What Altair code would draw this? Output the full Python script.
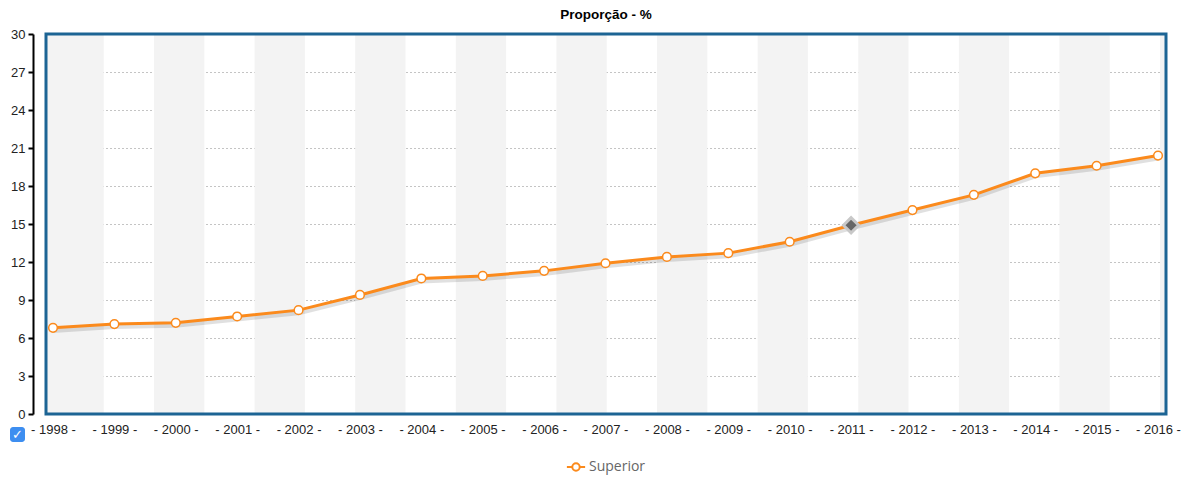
import altair as alt
import pandas as pd

# ---- data ----
years = list(range(1998, 2017))
values = [6.8, 7.1, 7.2, 7.7, 8.2, 9.4, 10.7, 10.9, 11.3, 11.9, 12.4, 12.7,
          13.6, 14.9, 16.1, 17.3, 19.0, 19.6, 20.4]
series_name = "Superior"
highlight_year = 2011
y_ticks = [0, 3, 6, 9, 12, 15, 18, 21, 24, 27, 30]

# background stripe bands (in year units of the x scale)
band_start = [1997.886, 1999.645, 2001.284, 2002.922, 2004.561, 2006.200,
              2007.839, 2009.478, 2011.117, 2012.756, 2014.394, 2016.033]
band_end = [1998.826, 2000.465, 2002.103, 2003.742, 2005.381, 2007.020,
            2008.659, 2010.297, 2011.936, 2013.575, 2015.214, 2016.13]

df = pd.DataFrame({"ano": years, "valor": values, "serie": series_name})
bands = pd.DataFrame({"b0": band_start, "b1": band_end})
hl = df[df["ano"] == highlight_year]

W, H = 1120, 380
ORANGE = "#fb8a1c"
BLUE = "#1c6494"
FONT = "Liberation Sans"

xscale = alt.Scale(domain=[1997.886, 2016.13], nice=False, zero=False)
yscale = alt.Scale(domain=[0, 30], nice=False)

x_axis = alt.Axis(values=years, labelExpr="'- ' + datum.value + ' -'",
                  domain=False, ticks=False, grid=False,
                  labelFontSize=13, labelColor="#222", labelFont=FONT,
                  labelPadding=9, labelFlush=False, labelOverlap=False)
y_axis = alt.Axis(values=y_ticks, offset=13, domainColor="#000",
                  domainWidth=2, tickColor="#000", tickWidth=2, tickSize=5,
                  labelFontSize=13, labelColor="#222", labelFont=FONT,
                  labelPadding=3, grid=True, gridColor="#888",
                  gridDash=[1, 3], gridWidth=1)

x_enc = alt.X("ano:Q", scale=xscale, title=None, axis=x_axis)
y_enc = alt.Y("valor:Q", scale=yscale, title=None, axis=y_axis)

band_layer = alt.Chart(bands).mark_rect(color="#f3f3f3", clip=True).encode(
    x=alt.X("b0:Q", scale=xscale, title=None, axis=x_axis),
    x2="b1:Q",
    y=alt.value(0),
    y2=alt.value(H),
)

shadow = alt.Chart(df).transform_calculate(sh="datum.valor - 0.2").mark_line(
    color="#000", opacity=0.12, strokeWidth=5
).encode(x=x_enc, y=alt.Y("sh:Q", scale=yscale, title=None, axis=y_axis))

line = alt.Chart(df).mark_line(strokeWidth=3).encode(
    x=x_enc, y=y_enc,
    color=alt.Color("serie:N", scale=alt.Scale(range=[ORANGE]),
                    legend=alt.Legend(title=None, orient="none", legendX=523, legendY=426,
                                      symbolType="M -1.6 0 L -0.65 0 M 0.65 0 L 1.6 0 M 0.65 0 A 0.65 0.65 0 1 1 -0.65 0 A 0.65 0.65 0 1 1 0.65 0",
                                      symbolSize=130, symbolStrokeWidth=2,
                                      symbolFillColor="white", labelFontSize=14,
                                      labelColor="#666", labelFont="Open Sans",
                                      labelOffset=6)),
)

points = alt.Chart(df).mark_point(
    filled=False, fill="white", fillOpacity=1, stroke=ORANGE, strokeWidth=1.5,
    size=75, opacity=1
).encode(x=x_enc, y=y_enc)

diamond = alt.Chart(hl).mark_point(
    shape="diamond", filled=True, fill="#666", stroke="#c8c8c8", strokeWidth=3,
    size=230, opacity=1, strokeOpacity=1
).encode(x=x_enc, y=y_enc)

box_df = pd.DataFrame({"k": [1]})
border = alt.Chart(box_df).mark_rect(fill=None, stroke=BLUE, strokeWidth=3).encode(
    x=alt.value(0), x2=alt.value(W), y=alt.value(0), y2=alt.value(H)
)
checkbox = alt.Chart(box_df).mark_rect(fill="#3d8ef0", cornerRadius=3).encode(
    x=alt.value(-36), x2=alt.value(-21), y=alt.value(393), y2=alt.value(408)
)
check = alt.Chart(box_df).mark_text(text="✓", color="white", fontSize=13,
                                     fontWeight="bold", font="DejaVu Sans").encode(
    x=alt.value(-28.5), y=alt.value(401)
)

chart = alt.layer(band_layer, shadow, line, points, diamond, border, checkbox, check).properties(
    width=W, height=H,
    title=alt.Title("Proporção - %", fontSize=13.5, fontWeight="bold", font=FONT,
                    color="#000", anchor="middle", offset=7, dx=0),
    autosize=alt.AutoSizeParams(type="none"),
    padding={"left": 38, "top": 26, "right": 15, "bottom": 70},
).configure_view(
    stroke=None
)

chart.save("out.html", embed_options={"renderer": "svg", "actions": False})
